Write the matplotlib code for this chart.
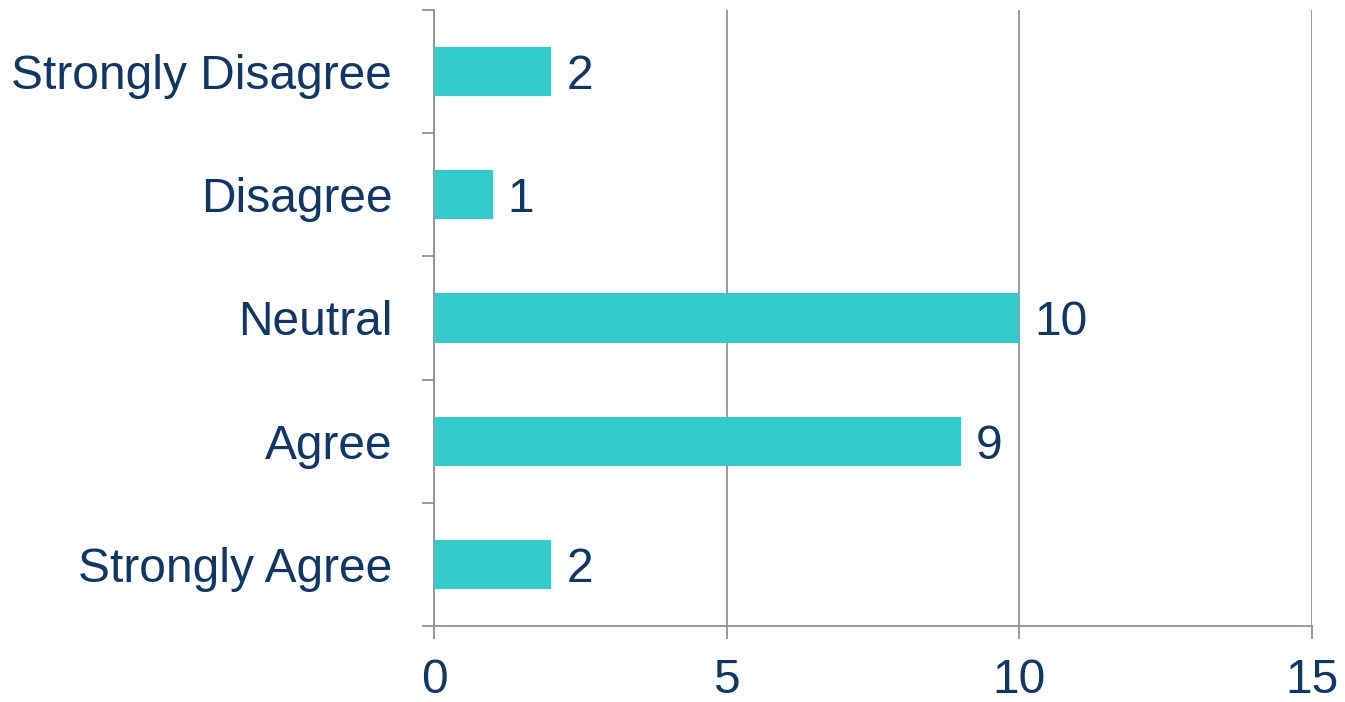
import numpy as np
import matplotlib.pyplot as plt

# survey responses, bottom to top
categories = ['Strongly Agree', 'Agree', 'Neutral', 'Disagree', 'Strongly Disagree']
counts = [2, 9, 10, 1, 2]
xticks = [0, 5, 10, 15]

bar_col = '#33CCCC'
text_col = '#0F3768'
grid_col = '#8F919F'

plt.rcParams['font.family'] = ['Liberation Sans', 'DejaVu Sans']

fig = plt.figure(figsize=(13.45, 7.02), dpi=100)
ax = fig.add_axes([0.3227, 0.1083, 0.6528, 0.8775])

y = np.arange(len(categories))
bars = ax.barh(y, counts, height=0.4, color=bar_col, zorder=3)

for yi, v in zip(y, counts):
    ax.annotate(str(v), (v, yi), xytext=(11, 0), textcoords='offset points',
                va='center_baseline', ha='left', fontsize=34.5, color=text_col)

ax.set_xlim(0, 15)
ax.set_ylim(-0.5, len(categories) - 0.5)
ax.set_xticks(xticks)
ax.set_xticklabels([str(t) for t in xticks])
ax.set_yticks(y)
ax.set_yticklabels(categories)
ax.set_yticks(np.arange(-0.5, len(categories), 1.0), minor=True)

ax.xaxis.grid(True, color=grid_col, linewidth=1.3, zorder=0)
for s in ['top', 'right']:
    ax.spines[s].set_visible(False)
for s in ['left', 'bottom']:
    ax.spines[s].set_color(grid_col)
    ax.spines[s].set_linewidth(1.3)

ax.tick_params(axis='y', which='major', length=0, pad=30, labelsize=34.5, labelcolor=text_col)
ax.tick_params(axis='y', which='minor', length=9, width=1.3, color=grid_col, direction='out')
ax.tick_params(axis='x', which='major', length=9, width=1.3, color=grid_col,
               pad=14, labelsize=34.5, labelcolor=text_col)

fig.savefig('out.png', dpi=100)
